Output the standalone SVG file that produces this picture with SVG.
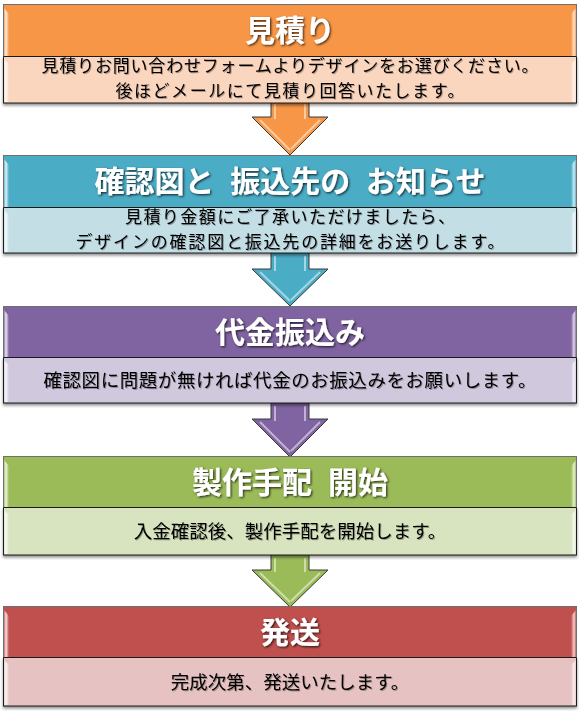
<svg xmlns="http://www.w3.org/2000/svg" width="579" height="712" viewBox="0 0 579 712">
<defs>
<style>
.hdr{stroke:#6f6f6f;stroke-width:1}
.bdy{stroke:#1a1a1a;stroke-width:1}
.ttl{font-family:"Noto Sans CJK JP","Noto Sans CJK SC",sans-serif;font-weight:bold;font-size:30px;fill:#ffffff;text-anchor:middle;word-spacing:9px;filter:url(#tsh)}
.txt{font-family:"Noto Sans CJK JP","Noto Sans CJK SC",sans-serif;font-size:18.5px;fill:#000000;text-anchor:middle;filter:url(#bsh)}
.two{font-size:17px}
.bl{fill:url(#bevL)}
.br{fill:url(#bevR)}
.arr{stroke:#3a3a3a;stroke-width:1;stroke-linejoin:miter}
.hl{fill:none;stroke:#ffffff;stroke-opacity:0.5;stroke-width:2}
</style>
<filter id="tsh" x="-10%" y="-20%" width="120%" height="150%">
<feDropShadow dx="1.2" dy="1.2" stdDeviation="0.9" flood-color="#000" flood-opacity="0.75"/>
</filter>
<filter id="bsh" x="-5%" y="-20%" width="110%" height="150%">
<feDropShadow dx="1" dy="1" stdDeviation="0.6" flood-color="#000" flood-opacity="0.3"/>
</filter>
<filter id="boxsh" x="-2%" y="-5%" width="104%" height="115%">
<feDropShadow dx="0" dy="2" stdDeviation="1.5" flood-color="#000" flood-opacity="0.45"/>
</filter>
<linearGradient id="bevL" x1="0" y1="0" x2="1" y2="0">
<stop offset="0" stop-color="#fff" stop-opacity="0.15"/>
<stop offset="0.4" stop-color="#fff" stop-opacity="0.85"/>
<stop offset="1" stop-color="#fff" stop-opacity="0"/>
</linearGradient>
<linearGradient id="bevR" x1="1" y1="0" x2="0" y2="0">
<stop offset="0" stop-color="#fff" stop-opacity="0.1"/>
<stop offset="0.4" stop-color="#fff" stop-opacity="0.75"/>
<stop offset="1" stop-color="#fff" stop-opacity="0"/>
</linearGradient>
</defs>
<rect width="579" height="712" fill="#ffffff"/>

<g id="connectors">
<g id="arrow1">
<polygon class="arr" fill="#F79646" points="271,100 309,100 309,117 328,117 290,155 252,117 271,117"/>
<path class="hl" d="M275,104 V119 M305,104 V119 M260,120 L290,150 M320,120 L291,149"/>
</g>
<g id="arrow2">
<polygon class="arr" fill="#4BACC6" points="271,250 309,250 309,269 328,269 290,306 252,269 271,269"/>
<path class="hl" d="M275,256 V271 M305,256 V271 M260,272 L290,301 M320,272 L291,300"/>
</g>
<g id="arrow3">
<polygon class="arr" fill="#8064A2" points="271,400 309,400 309,419 328,419 290,457 252,419 271,419"/>
<path class="hl" d="M275,406 V421 M305,406 V421 M260,422 L290,452 M320,422 L291,451"/>
</g>
<g id="arrow4">
<polygon class="arr" fill="#9BBB59" points="271,552 309,552 309,570 328,570 290,607 252,570 271,570"/>
<path class="hl" d="M275,558 V572 M305,558 V572 M260,573 L290,602 M320,573 L291,601"/>
</g>
</g>

<g id="step1">
<g filter="url(#boxsh)">
<rect class="bdy" x="3.5" y="56.5" width="573" height="46.5" fill="#FBD6BF"/>
</g>
<rect class="hdr" x="3.5" y="4.5" width="573" height="52" fill="#F79646"/>
<line x1="3.5" y1="56.5" x2="576.5" y2="56.5" stroke="#1a1a1a"/>
<path class="bl" d="M4,8 L9,14 V56 H4 Z"/><path class="br" d="M576,8 L571,14 V56 H576 Z"/>
<path class="bl" d="M4,59 L9,64 V102 H4 Z"/><path class="br" d="M576,59 L571,64 V102 H576 Z"/>
<text class="ttl" x="290" y="41.4">見積り</text>
<text class="txt two" x="290" y="72.3" textLength="497" lengthAdjust="spacing">見積りお問い合わせフォームよりデザインをお選びください。</text>
<text class="txt two" x="290" y="97.1" textLength="349" lengthAdjust="spacing">後ほどメールにて見積り回答いたします。</text>
</g>

<g id="step2">
<g filter="url(#boxsh)">
<rect class="bdy" x="3.5" y="207.5" width="573" height="45.5" fill="#C4DEE5"/>
</g>
<rect class="hdr" x="3.5" y="155.5" width="573" height="52" fill="#4BACC6"/>
<line x1="3.5" y1="207.5" x2="576.5" y2="207.5" stroke="#1a1a1a"/>
<path class="bl" d="M4,159 L9,165 V207 H4 Z"/><path class="br" d="M576,159 L571,165 V207 H576 Z"/>
<path class="bl" d="M4,210 L9,215 V252 H4 Z"/><path class="br" d="M576,210 L571,215 V252 H576 Z"/>
<text class="ttl" x="290" y="192.4">確認図と 振込先の お知らせ</text>
<text class="txt two" x="290" y="223.4" textLength="330" lengthAdjust="spacing">見積り金額にご了承いただけましたら、</text>
<text class="txt two" x="290" y="248.2" textLength="429" lengthAdjust="spacing">デザインの確認図と振込先の詳細をお送りします。</text>
</g>

<g id="step3">
<g filter="url(#boxsh)">
<rect class="bdy" x="3.5" y="357.5" width="573" height="45.5" fill="#D0C8DD"/>
</g>
<rect class="hdr" x="3.5" y="306.5" width="573" height="51" fill="#8064A2"/>
<line x1="3.5" y1="357.5" x2="576.5" y2="357.5" stroke="#1a1a1a"/>
<path class="bl" d="M4,310 L9,316 V357 H4 Z"/><path class="br" d="M576,310 L571,316 V357 H576 Z"/>
<path class="bl" d="M4,360 L9,365 V402 H4 Z"/><path class="br" d="M576,360 L571,365 V402 H576 Z"/>
<text class="ttl" x="290" y="343">代金振込み</text>
<text class="txt" x="290" y="387" textLength="493" lengthAdjust="spacing">確認図に問題が無ければ代金のお振込みをお願いします。</text>
</g>

<g id="step4">
<g filter="url(#boxsh)">
<rect class="bdy" x="3.5" y="507.5" width="573" height="47.5" fill="#D8E4BF"/>
</g>
<rect class="hdr" x="3.5" y="456.5" width="573" height="51" fill="#9BBB59"/>
<line x1="3.5" y1="507.5" x2="576.5" y2="507.5" stroke="#1a1a1a"/>
<path class="bl" d="M4,460 L9,466 V507 H4 Z"/><path class="br" d="M576,460 L571,466 V507 H576 Z"/>
<path class="bl" d="M4,510 L9,515 V554 H4 Z"/><path class="br" d="M576,510 L571,515 V554 H576 Z"/>
<text class="ttl" x="290" y="493">製作手配 開始</text>
<text class="txt" x="290" y="538">入金確認後、製作手配を開始します。</text>
</g>

<g id="step5">
<g filter="url(#boxsh)">
<rect class="bdy" x="3.5" y="657.5" width="573" height="48.5" fill="#E6C3C2"/>
</g>
<rect class="hdr" x="3.5" y="606.5" width="573" height="51" fill="#C0504D"/>
<line x1="3.5" y1="657.5" x2="576.5" y2="657.5" stroke="#1a1a1a"/>
<path class="bl" d="M4,610 L9,616 V657 H4 Z"/><path class="br" d="M576,610 L571,616 V657 H576 Z"/>
<path class="bl" d="M4,660 L9,665 V705 H4 Z"/><path class="br" d="M576,660 L571,665 V705 H576 Z"/>
<text class="ttl" x="290" y="643">発送</text>
<text class="txt" x="290" y="689">完成次第、発送いたします。</text>
</g>
</svg>
